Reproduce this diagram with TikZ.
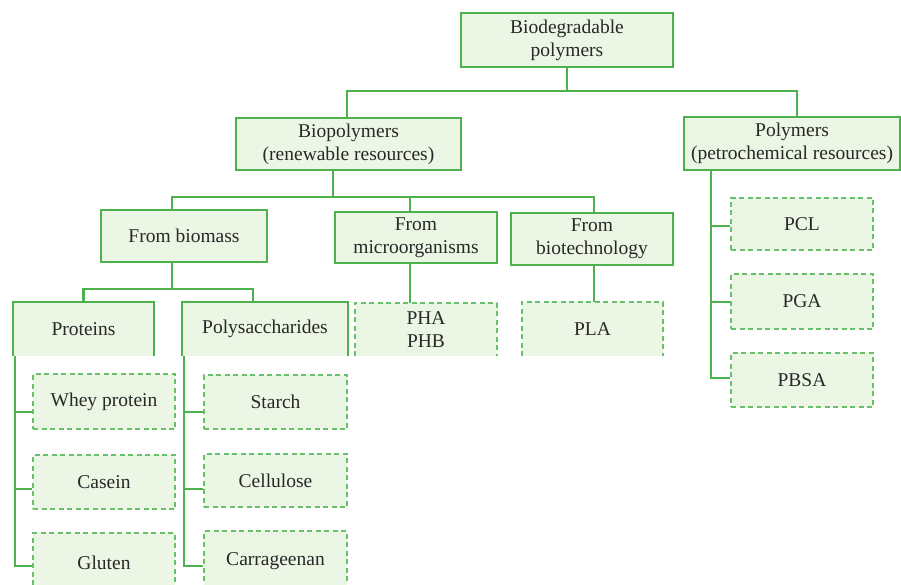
\documentclass[tikz,border=0pt]{standalone}
\usepackage{fontspec}
\setmainfont{Liberation Serif}
\definecolor{gline}{RGB}{76,178,76}
\definecolor{gdash}{RGB}{104,192,104}
\definecolor{gfill}{RGB}{236,246,228}
\definecolor{tcol}{RGB}{40,40,40}
\begin{document}
\begin{tikzpicture}[x=1pt,y=-1pt,
  base/.style={inner sep=0pt, align=center, text=tcol, fill=gfill,
    font=\fontsize{19.5}{23}\selectfont},
  solidbox/.style={base, draw=gline, line width=2pt},
  dashbox/.style={base, draw=gdash, line width=2pt, dash pattern=on 5pt off 3.5pt},
  openfill/.style={base},
  conn/.style={draw=gline, line width=2.5pt},
  sedge/.style={draw=gline, line width=2pt},
  dedge/.style={draw=gdash, line width=2pt, dash pattern=on 5pt off 3.5pt}]
\useasboundingbox (0,0) rectangle (901,585);
\clip (0,0) rectangle (901,585);
% level 0
\node[solidbox, minimum width=212pt, minimum height=54pt] (top) at (567,40) {Biodegradable\\polymers};
% level 1
\node[solidbox, minimum width=225pt, minimum height=52pt] (bio) at (348.5,144) {Biopolymers\\(renewable resources)};
\node[solidbox, minimum width=216pt, minimum height=53pt] (poly) at (792,143.5) {Polymers\\(petrochemical resources)};
% level 2
\node[solidbox, minimum width=166pt, minimum height=52pt] (biomass) at (184,236) {From biomass};
\node[solidbox, minimum width=162pt, minimum height=51pt] (micro) at (416,237.5) {From\\microorganisms};
\node[solidbox, minimum width=162pt, minimum height=52pt] (biotech) at (592,239) {From\\biotechnology};
% level 3 (open bottom)
\node[openfill, minimum width=141pt, minimum height=54pt] (prot) at (83.5,329) {Proteins};
\node[openfill, minimum width=166pt, minimum height=54pt] (polys) at (265,329) {Polysaccharides};
\node[openfill, minimum width=142pt, minimum height=53pt] (pha) at (426,329.5) {PHA\\PHB};
\node[openfill, minimum width=141pt, minimum height=54pt] (pla) at (592.5,329) {PLA};
\draw[sedge] (prot.south west) -- (prot.north west) -- (prot.north east) -- (prot.south east);
\draw[sedge] (polys.south west) -- (polys.north west) -- (polys.north east) -- (polys.south east);
\draw[dedge] (pha.south west) -- (pha.north west) -- (pha.north east) -- (pha.south east);
\draw[dedge] (pla.south west) -- (pla.north west) -- (pla.north east) -- (pla.south east);
% leaves
\node[dashbox, minimum width=142pt, minimum height=55pt] (whey) at (104,401.5) {Whey protein};
\node[dashbox, minimum width=142pt, minimum height=54pt] (casein) at (104,482) {Casein};
\node[dashbox, minimum width=142pt, minimum height=60pt] (gluten) at (104,563) {Gluten};
\node[dashbox, minimum width=143pt, minimum height=54pt] (starch) at (275.5,402) {Starch};
\node[dashbox, minimum width=143pt, minimum height=53pt] (cell) at (275.5,480.5) {Cellulose};
\node[dashbox, minimum width=143pt, minimum height=60pt] (carr) at (275.5,561) {Carrageenan};
\node[dashbox, minimum width=142pt, minimum height=52pt] (pcl) at (802,224) {PCL};
\node[dashbox, minimum width=142pt, minimum height=55pt] (pga) at (802,301.5) {PGA};
\node[dashbox, minimum width=142pt, minimum height=54pt] (pbsa) at (802,380) {PBSA};
% connectors
\coordinate (j1) at (567,91);
\draw[conn] (top.south) -- (j1);
\draw[conn] ([xshift=-1.5pt]bio.north) |- (j1) -| ([xshift=5pt]poly.north);
\coordinate (j2) at (333,197);
\draw[conn] ([xshift=-15.5pt]bio.south) -- (j2);
\draw[conn] ([xshift=-12pt]biomass.north) |- (j2) -| ([xshift=2pt]biotech.north);
\draw[conn] ([xshift=-6pt]micro.north) -- ([xshift=-6pt]micro.north |- j2);
\draw[conn] ([xshift=-6pt]micro.south) -- ([xshift=-6pt]pha.north -| micro.south);
\draw[conn] ([xshift=2pt]biotech.south) -- ([xshift=2pt]pla.north -| biotech.south);
\coordinate (j3) at (172,289);
\draw[conn] ([xshift=-12pt]biomass.south) -- (j3);
\draw[conn] (prot.north) |- (j3) -| ([xshift=-12pt]polys.north);
% branch levels
\coordinate (r1) at (0,412);
\coordinate (r2) at (0,489);
\coordinate (r3) at (0,566);
\coordinate (q1) at (0,226);
\coordinate (q2) at (0,302);
\coordinate (q3) at (0,378);
% left trees
\draw[conn] ([xshift=2pt]prot.south west) |- (gluten.west |- r3);
\draw[conn] ([xshift=2pt]prot.south west |- r1) -- (whey.west |- r1);
\draw[conn] ([xshift=2pt]prot.south west |- r2) -- (casein.west |- r2);
\draw[conn] ([xshift=2pt]polys.south west) |- (carr.west |- r3);
\draw[conn] ([xshift=2pt]polys.south west |- r1) -- (starch.west |- r1);
\draw[conn] ([xshift=2pt]polys.south west |- r2) -- (cell.west |- r2);
\draw[conn] ([xshift=-81pt]poly.south) |- (pbsa.west |- q3);
\draw[conn] ([xshift=-81pt]poly.south |- q1) -- (pcl.west |- q1);
\draw[conn] ([xshift=-81pt]poly.south |- q2) -- (pga.west |- q2);
\end{tikzpicture}
\end{document}
